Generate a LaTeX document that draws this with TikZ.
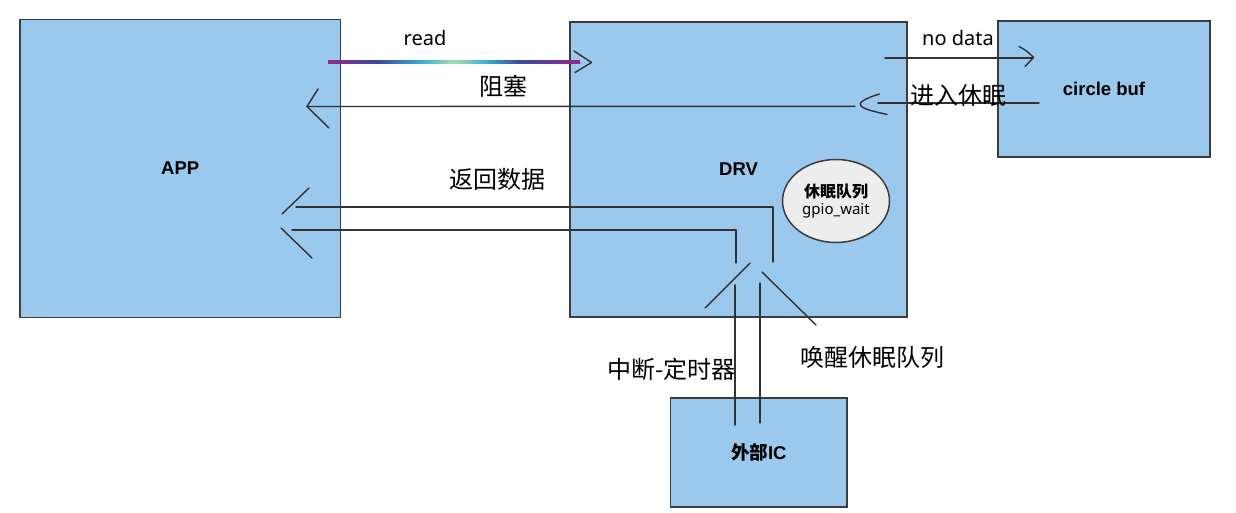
\documentclass[tikz,border=0pt]{standalone}
\usepackage{fontspec}
\setmainfont{Noto Sans}
\newfontfamily\cjk{Noto Sans CJK SC}
\newfontfamily\boldsans{Liberation Sans}
\usetikzlibrary{shapes.geometric,calc}
\definecolor{boxblue}{RGB}{155,200,237}
\definecolor{edgegray}{RGB}{60,60,62}
\definecolor{ellfill}{RGB}{237,237,237}
\definecolor{lngray}{RGB}{50,50,50}
\definecolor{rp}{RGB}{150,40,140}
\definecolor{rb}{RGB}{55,75,160}
\definecolor{rc}{RGB}{60,180,215}
\definecolor{rg}{RGB}{170,220,175}
\pgfdeclarehorizontalshading{rainbow}{100bp}{color(0bp)=(rp); color(25bp)=(rp); color(35bp)=(rb); color(44bp)=(rc); color(50bp)=(rg); color(56bp)=(rc); color(63bp)=(rb); color(75bp)=(rp); color(100bp)=(rp)}
\tikzset{
  box/.style={draw=edgegray, line width=1.8pt, fill=boxblue, inner sep=0pt,
    font=\boldsans\bfseries\fontsize{18.5}{22}\selectfont},
  conn/.style={draw=lngray, line width=1.4pt, line join=round, line cap=round},
  lbl/.style={inner sep=0pt, anchor=base, font=\fontsize{20}{24}\selectfont},
  cjklbl/.style={inner sep=0pt, anchor=base, font=\cjk\fontsize{24}{28}\selectfont},
}
\begin{document}
\begin{tikzpicture}[x=1pt,y=-1pt]
\useasboundingbox (0,0) rectangle (1236,513);
\fill[white] (0,0) rectangle (1236,513);

% boxes
\node[box, minimum width=320.5pt, minimum height=298pt] (app) at (180.25,168.5) {APP};
\node[box, minimum width=337pt, minimum height=295pt] (drv) at (738.5,169.5) {DRV};
\node[box, minimum width=212pt, minimum height=136pt] (buf) at (1104,89) {circle buf};
\node[box, minimum width=176.5pt, minimum height=109pt] (ic) at (758.75,452.5) {{\cjk\bfseries 外部}IC};
\node[ellipse, draw=edgegray, line width=1.5pt, fill=ellfill, minimum width=107pt, minimum height=83pt, inner sep=0pt, align=center] (queue) at (836,201)
  {{\cjk\bfseries\fontsize{16}{18}\selectfont 休眠队列}\\[2.5pt]{\fontsize{15}{17}\selectfont gpio\_wait}};

% coordinates for connectors
\coordinate (readS) at (328,62);
\coordinate (readE) at (580,62);
\coordinate (rhA) at (574,51);
\coordinate (rhB) at (591.5,62.5);
\coordinate (rhC) at (575,72.5);

\coordinate (blkS) at (855,106.3);
\coordinate (blkE) at (307,106.5);
\coordinate (bhA) at (318,89);
\coordinate (bhC) at (329,128);

\coordinate (ndS) at (885,58);
\coordinate (ndE) at (1033,58);
\coordinate (nhA) at (1019,46.5);
\coordinate (nhB) at (1033.5,57.5);
\coordinate (nhC) at (1025,66.5);

\coordinate (slS) at (1039,103);
\coordinate (slE) at (878,103);
\coordinate (shA) at (879.5,94);
\coordinate (shB) at (861,106);
\coordinate (shC) at (887,114.5);

\coordinate (r1a) at (773,262);
\coordinate (r1b) at (773,207);
\coordinate (r1c) at (296,207);
\coordinate (r2a) at (736,263);
\coordinate (r2b) at (736,230);
\coordinate (r2c) at (292,230);
\coordinate (ah1a) at (309,188);
\coordinate (ah1b) at (282,214);
\coordinate (ah2a) at (281,228);
\coordinate (ah2b) at (312,258);

\coordinate (u1a) at (735,425);
\coordinate (u1b) at (735,285);
\coordinate (u2a) at (760,423);
\coordinate (u2b) at (760,283);
\coordinate (uh1a) at (705,308);
\coordinate (uh1b) at (750,263);
\coordinate (uh2a) at (762,272);
\coordinate (uh2b) at (816,325);

% read (gradient line)
\shade[shading=rainbow] ($(readS)+(0,-1.5)$) rectangle ($(readE)+(0,1.5)$);
\draw[conn] (rhA) .. controls (583,56) .. (rhB) .. controls (584,67) .. (rhC);

% blocking
\draw[conn] (blkS) -- (blkE);
\draw[conn] (bhA) -- (blkE) -- (bhC);

% no data
\draw[conn] (ndS) -- (ndE);
\draw[conn] (nhA) .. controls (1027,51) .. (nhB) .. controls (1029,62) .. (nhC);

% enter sleep
\draw[conn] (slS) -- (slE);
\draw[conn] (shA) .. controls (866,98) and (857,103) .. (shB) .. controls (865,110) and (877,112) .. (shC);

% return data
\draw[conn] (r1a) -- (r1b) -- (r1c);
\draw[conn] (r2a) -- (r2b) -- (r2c);
\draw[conn] (ah1a) -- (ah1b);
\draw[conn] (ah2a) -- (ah2b);

% interrupt / wake up
\draw[conn] (u1a) -- (u1b);
\draw[conn] (u2a) -- (u2b);
\draw[conn] (uh1a) -- (uh1b);
\draw[conn] (uh2a) -- (uh2b);

% labels
\node[lbl] (tread) at (425,45.3) {read};
\node[lbl] (tnodata) at (958,45.3) {no data};
\node[cjklbl] (tblock) at (503,95.6) {阻塞};
\node[cjklbl] (tsleep) at (958,104.3) {进入休眠};
\node[cjklbl] (tret) at (497.7,189) {返回数据};
\node[cjklbl] (tint) at (671.5,378.3) {中断-定时器};
\node[cjklbl] (twake) at (872.5,366.6) {唤醒休眠队列};
\end{tikzpicture}
\end{document}
